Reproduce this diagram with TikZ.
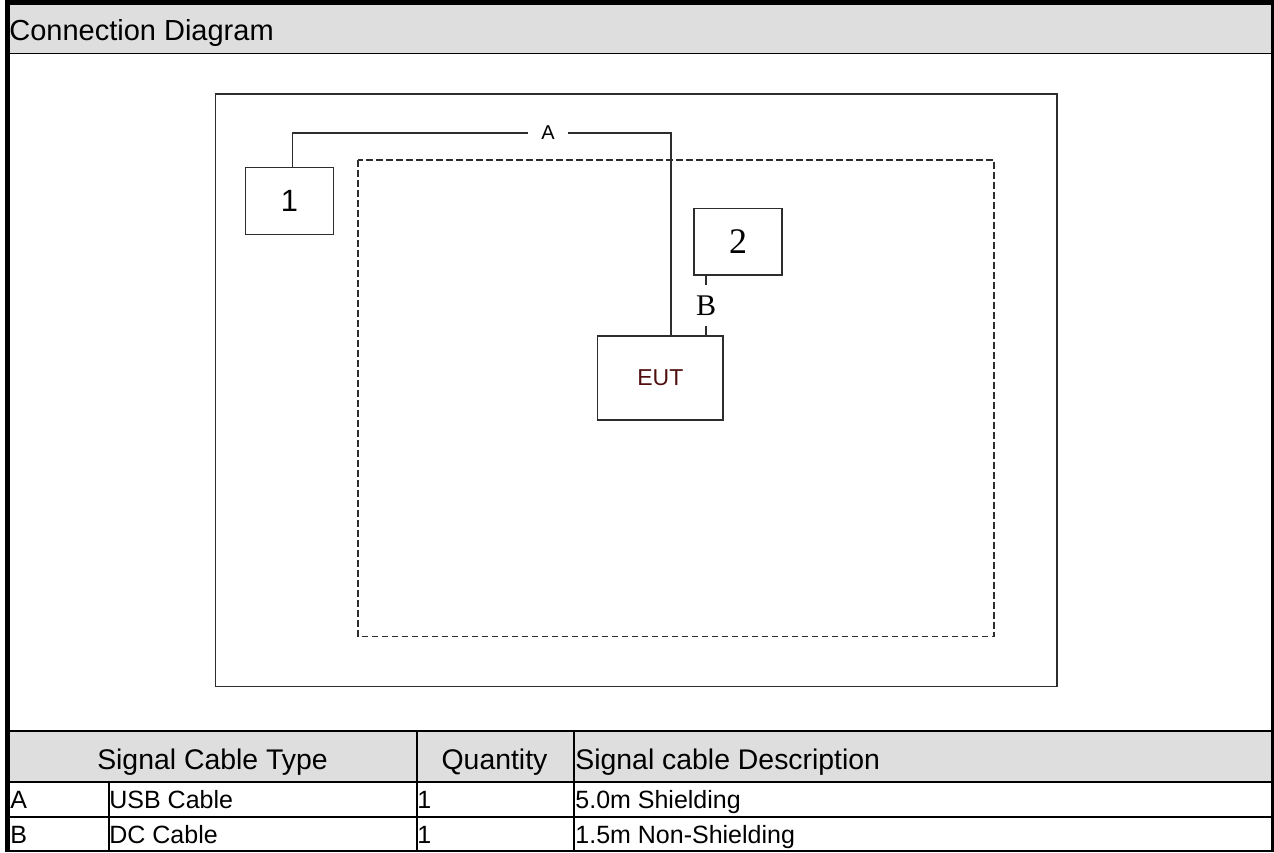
\documentclass[tikz,border=0pt]{standalone}
\usepackage{fontspec}
\setmainfont{Liberation Sans}
\newfontfamily\labserif{Liberation Serif}
\usepackage{xcolor}
\usepackage{tikz}
\usetikzlibrary{positioning}
\newcommand{\pts}[1]{\fontsize{#1}{#1}\selectfont}
\definecolor{hdrgray}{RGB}{222,222,222}
\definecolor{wire}{RGB}{45,45,45}
\definecolor{eutred}{RGB}{80,15,15}

\begin{document}
\begin{tikzpicture}[x=0.5pt, y=-0.5pt,
  box/.style={draw=wire, line width=0.8pt, inner sep=0pt},
  cable/.style={draw=wire, line width=0.7pt},
  head/.style={anchor=base, inner sep=0pt, font=\pts{14.2}},
  cell/.style={anchor=base west, inner sep=0pt, font=\pts{12.5}}]
\useasboundingbox (0,0) rectangle (1274,852);

% frame, title band and table grid
\fill[hdrgray] (10,5) rectangle (1271,53);
\fill[hdrgray] (10,731) rectangle (1271,781);
\fill (5,0) rectangle (10,852);
\fill (5,0) rectangle (1274,5);
\fill (1271,0) rectangle (1274,852);
\draw[line width=0.5pt] (10,53.5) -- (1271,53.5);
\draw[line width=0.75pt] (10,731) -- (1271,731);
\draw[line width=1pt] (10,781.5) -- (1271,781.5) (10,816.5) -- (1271,816.5) (10,851) -- (1271,851);
\draw[line width=1pt] (109,781.5) -- (109,851) (416.5,731) -- (416.5,851) (574,731) -- (574,851);

\node [anchor=base west, inner sep=0pt, font=\pts{14.5}] (title) at (9,40) {Connection Diagram};

% test set-up
\draw[wire, line width=0.8pt] (215.5,94) rectangle (1057,686.5);
\draw[wire, line width=0.65pt, dash pattern=on 3.3pt off 1.7pt] (358,160) rectangle (994,636.5);

\node [box, minimum width=44pt, minimum height=33.5pt, font=\pts{15.4}] (one) at (289.5,201) {1};
\node [box, minimum width=44.2pt, minimum height=33.2pt, font=\labserif\pts{18}] (two) at (738,241.5) {2};
\node [box, minimum width=62.7pt, minimum height=42pt, font=\pts{11.5}, text=eutred] (eut) at (660.3,378) {EUT};

\coordinate (abend) at (671,133);
\draw[cable] ([xshift=1.6pt]one.north) |- node[pos=0.8375, fill=white, inner xsep=6.5pt, inner ysep=1pt, font=\pts{10}] (lbla) {A} (abend) -- (abend |- eut.north);
\draw[cable] ([xshift=-16pt]two.south) -- node[fill=white, inner xsep=1pt, inner ysep=5.3pt, font=\labserif\pts{15}] (lblb) {B} ([xshift=-16pt]two.south |- eut.north);

% cable list
\node [head] (hcable) at (212.5,769) {Signal Cable Type};
\node [head] (hqty) at (494.5,769) {Quantity};
\node [head, anchor=base west] (hdesc) at (575,769) {Signal cable Description};

\node [cell] (ta) at (10,808.5) {A};
\node [cell] (tusb) at (109,808.5) {USB Cable};
\node [cell] (qa) at (417,808.5) {1};
\node [cell] (da) at (575,808.5) {5.0m Shielding};

\node [cell] (tb) at (10,843.5) {B};
\node [cell] (tdc) at (109,843.5) {DC Cable};
\node [cell] (qb) at (417,843.5) {1};
\node [cell] (db) at (575,843.5) {1.5m Non-Shielding};
\end{tikzpicture}
\end{document}
